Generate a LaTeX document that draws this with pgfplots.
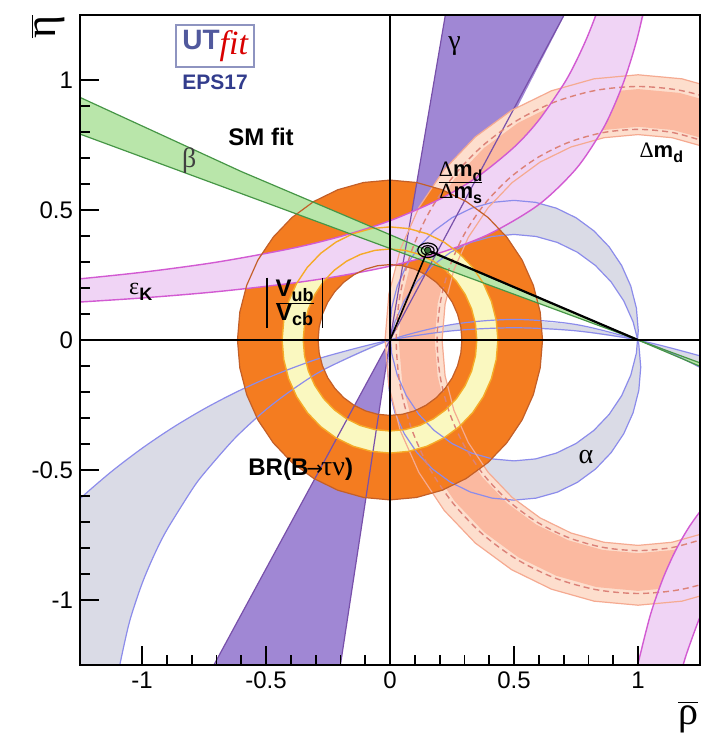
\documentclass[border=0pt]{standalone}
\usepackage{pgfplots}
\pgfplotsset{compat=1.18}
\usepackage{pgfplotstable}
\usepackage{fontspec}
\setmainfont{Liberation Sans}
\newfontfamily\gr{Liberation Serif}
\newfontfamily\djv{DejaVu Sans}
\usetikzlibrary{calc}
\definecolor{orng}{RGB}{244,124,32}
\definecolor{orngb}{RGB}{195,95,40}
\definecolor{ylw}{RGB}{250,248,192}
\definecolor{ylwb}{RGB}{245,170,40}
\definecolor{grayf}{RGB}{218,219,230}
\definecolor{bluel}{RGB}{140,140,235}
\definecolor{pinkf}{RGB}{240,212,245}
\definecolor{pinkl}{RGB}{210,90,210}
\definecolor{peach}{RGB}{253,222,205}
\definecolor{salmon}{RGB}{251,185,160}
\definecolor{peachl}{RGB}{245,170,145}
\definecolor{salmond}{RGB}{220,130,120}
\definecolor{purp}{RGB}{160,135,212}
\definecolor{purpl}{RGB}{120,80,170}
\definecolor{grn}{RGB}{185,230,170}
\definecolor{grnl}{RGB}{70,150,70}
\definecolor{logoblue}{RGB}{50,60,140}

% |Vub/Vcb| / BR ring: outer r=0.615, inner r=0.29
\pgfplotstableread{
x y
0.615 0
0.6057 0.1068
0.5779 0.2103
0.5326 0.3075
0.4711 0.3953
0.3953 0.4711
0.3075 0.5326
0.2103 0.5779
0.1068 0.6057
0 0.615
-0.1068 0.6057
-0.2103 0.5779
-0.3075 0.5326
-0.3953 0.4711
-0.4711 0.3953
-0.5326 0.3075
-0.5779 0.2103
-0.6057 0.1068
-0.615 0
-0.6057 -0.1068
-0.5779 -0.2103
-0.5326 -0.3075
-0.4711 -0.3953
-0.3953 -0.4711
-0.3075 -0.5326
-0.2103 -0.5779
-0.1068 -0.6057
0 -0.615
0.1068 -0.6057
0.2103 -0.5779
0.3075 -0.5326
0.3953 -0.4711
0.4711 -0.3953
0.5326 -0.3075
0.5779 -0.2103
0.6057 -0.1068
0.615 0
nan nan
0.29 0
0.2856 0.0503
0.2725 0.0992
0.2511 0.145
0.2221 0.1864
0.1864 0.2221
0.145 0.2511
0.0992 0.2725
0.0503 0.2856
0 0.29
-0.0503 0.2856
-0.0992 0.2725
-0.145 0.2511
-0.1864 0.2221
-0.2221 0.1864
-0.2511 0.145
-0.2725 0.0992
-0.2856 0.0503
-0.29 0
-0.2856 -0.0503
-0.2725 -0.0992
-0.2511 -0.145
-0.2221 -0.1864
-0.1864 -0.2221
-0.145 -0.2511
-0.0992 -0.2725
-0.0503 -0.2856
0 -0.29
0.0503 -0.2856
0.0992 -0.2725
0.145 -0.2511
0.1864 -0.2221
0.2221 -0.1864
0.2511 -0.145
0.2725 -0.0992
0.2856 -0.0503
0.29 0
}\tOrange

% yellow ring: r=0.435 and r=0.35
\pgfplotstableread{
x y
0.435 0
0.4284 0.0755
0.4088 0.1488
0.3767 0.2175
0.3332 0.2796
0.2796 0.3332
0.2175 0.3767
0.1488 0.4088
0.0755 0.4284
0 0.435
-0.0755 0.4284
-0.1488 0.4088
-0.2175 0.3767
-0.2796 0.3332
-0.3332 0.2796
-0.3767 0.2175
-0.4088 0.1488
-0.4284 0.0755
-0.435 0
-0.4284 -0.0755
-0.4088 -0.1488
-0.3767 -0.2175
-0.3332 -0.2796
-0.2796 -0.3332
-0.2175 -0.3767
-0.1488 -0.4088
-0.0755 -0.4284
0 -0.435
0.0755 -0.4284
0.1488 -0.4088
0.2175 -0.3767
0.2796 -0.3332
0.3332 -0.2796
0.3767 -0.2175
0.4088 -0.1488
0.4284 -0.0755
0.435 0
nan nan
0.35 0
0.3447 0.0608
0.3289 0.1197
0.3031 0.175
0.2681 0.225
0.225 0.2681
0.175 0.3031
0.1197 0.3289
0.0608 0.3447
0 0.35
-0.0608 0.3447
-0.1197 0.3289
-0.175 0.3031
-0.225 0.2681
-0.2681 0.225
-0.3031 0.175
-0.3289 0.1197
-0.3447 0.0608
-0.35 0
-0.3447 -0.0608
-0.3289 -0.1197
-0.3031 -0.175
-0.2681 -0.225
-0.225 -0.2681
-0.175 -0.3031
-0.1197 -0.3289
-0.0608 -0.3447
0 -0.35
0.0608 -0.3447
0.1197 -0.3289
0.175 -0.3031
0.225 -0.2681
0.2681 -0.225
0.3031 -0.175
0.3289 -0.1197
0.3447 -0.0608
0.35 0
}\tYellow

% Delta m_d light ring around (1,0): r=1.02 and r=0.79
\pgfplotstableread{
x y
2.02 0
2.0045 0.1771
1.9585 0.3488
1.8833 0.51
1.7813 0.6557
1.6557 0.7813
1.51 0.8833
1.3488 0.9585
1.1771 1.0045
1 1.02
0.8229 1.0045
0.6512 0.9585
0.49 0.8833
0.3443 0.7813
0.2187 0.6557
0.1167 0.51
0.0415 0.3488
-0.0045 0.1771
-0.02 0
-0.0045 -0.1771
0.0415 -0.3488
0.1167 -0.51
0.2187 -0.6557
0.3443 -0.7813
0.49 -0.8833
0.6512 -0.9585
0.8229 -1.0045
1 -1.02
1.1771 -1.0045
1.3488 -0.9585
1.51 -0.8833
1.6557 -0.7813
1.7813 -0.6557
1.8833 -0.51
1.9585 -0.3488
2.0045 -0.1771
2.02 0
nan nan
1.79 0
1.778 0.1371
1.7424 0.2702
1.6841 0.395
1.6051 0.5078
1.5078 0.6051
1.395 0.6841
1.2702 0.7424
1.1371 0.778
1 0.79
0.8629 0.778
0.7298 0.7424
0.605 0.6841
0.4922 0.6051
0.3949 0.5078
0.3159 0.395
0.2576 0.2702
0.222 0.1371
0.21 0
0.222 -0.1371
0.2576 -0.2702
0.3159 -0.395
0.3949 -0.5078
0.4922 -0.6051
0.605 -0.6841
0.7298 -0.7424
0.8629 -0.778
1 -0.79
1.1371 -0.778
1.2702 -0.7424
1.395 -0.6841
1.5078 -0.6051
1.6051 -0.5078
1.6841 -0.395
1.7424 -0.2702
1.778 -0.1371
1.79 0
}\tPeach

% salmon ring around (1,0): r=0.965 and r=0.82
\pgfplotstableread{
x y
1.965 0
1.9503 0.1675
1.9068 0.33
1.8357 0.4825
1.7392 0.6203
1.6203 0.7392
1.4825 0.8357
1.33 0.9068
1.1675 0.9503
1 0.965
0.8325 0.9503
0.67 0.9068
0.5175 0.8357
0.3797 0.7392
0.2608 0.6203
0.1643 0.4825
0.0932 0.33
0.0497 0.1675
0.035 0
0.0497 -0.1675
0.0932 -0.33
0.1643 -0.4825
0.2608 -0.6203
0.3797 -0.7392
0.5175 -0.8357
0.67 -0.9068
0.8325 -0.9503
1 -0.965
1.1675 -0.9503
1.33 -0.9068
1.4825 -0.8357
1.6203 -0.7392
1.7392 -0.6203
1.8357 -0.4825
1.9068 -0.33
1.9503 -0.1675
1.965 0
nan nan
1.82 0
1.8075 0.1424
1.7706 0.2804
1.7101 0.41
1.6281 0.5271
1.5271 0.6281
1.41 0.7101
1.2804 0.7706
1.1424 0.8075
1 0.82
0.8576 0.8075
0.7196 0.7706
0.59 0.7101
0.4729 0.6281
0.3719 0.5271
0.2899 0.41
0.2294 0.2804
0.1925 0.1424
0.18 0
0.1925 -0.1424
0.2294 -0.2804
0.2899 -0.41
0.3719 -0.5271
0.4729 -0.6281
0.59 -0.7101
0.7196 -0.7706
0.8576 -0.8075
1 -0.82
1.1424 -0.8075
1.2804 -0.7706
1.41 -0.7101
1.5271 -0.6281
1.6281 -0.5271
1.7101 -0.41
1.7706 -0.2804
1.8075 -0.1424
1.82 0
}\tSalmon

% alpha: two circles through (0,0) and (1,0)
\pgfplotstableread{
x y
1.001 0.036
0.9934 0.123
0.9708 0.2073
0.9339 0.2865
0.8838 0.358
0.822 0.4198
0.7505 0.4699
0.6713 0.5068
0.587 0.5294
0.5 0.537
0.413 0.5294
0.3287 0.5068
0.2495 0.4699
0.178 0.4198
0.1162 0.358
0.0661 0.2865
0.0292 0.2073
0.0066 0.123
-0.001 0.036
0.0066 -0.051
0.0292 -0.1353
0.0661 -0.2145
0.1162 -0.286
0.178 -0.3478
0.2495 -0.3979
0.3287 -0.4348
0.413 -0.4574
0.5 -0.465
0.587 -0.4574
0.6713 -0.4348
0.7505 -0.3979
0.822 -0.3478
0.8838 -0.286
0.9339 -0.2145
0.9708 -0.1353
0.9934 -0.051
1.001 0.036
nan nan
1.011 -0.105
1.0032 -0.0163
0.9802 0.0698
0.9425 0.1505
0.8914 0.2235
0.8285 0.2864
0.7555 0.3375
0.6748 0.3752
0.5887 0.3982
0.5 0.406
0.4113 0.3982
0.3252 0.3752
0.2445 0.3375
0.1715 0.2864
0.1086 0.2235
0.0575 0.1505
0.0198 0.0698
-0.0032 -0.0163
-0.011 -0.105
-0.0032 -0.1937
0.0198 -0.2798
0.0575 -0.3605
0.1086 -0.4335
0.1715 -0.4964
0.2445 -0.5475
0.3252 -0.5852
0.4113 -0.6082
0.5 -0.616
0.5887 -0.6082
0.6748 -0.5852
0.7555 -0.5475
0.8285 -0.4964
0.8914 -0.4335
0.9425 -0.3605
0.9802 -0.2798
1.0032 -0.1937
1.011 -0.105
}\tAlphaA

% alpha: two large circles (upper arcs) with the region below them
\pgfplotstableread{
x y
-1.35 -0.7025
-1.25 -0.6104
-1.125 -0.5076
-1.0 -0.4167
-0.875 -0.3363
-0.75 -0.2653
-0.625 -0.2028
-0.5 -0.1483
-0.375 -0.1011
-0.25 -0.061
0 -0.0004
0.25 0.0352
0.5 0.047
0.75 0.0352
1.0 -0.0004
1.25 -0.061
1.35 -0.0926
1.35 -1.7
-1.35 -1.7
-1.35 -0.7025
nan nan
-1.115 -1.536
-1.1 -1.3165
-1.0895 -1.25
-1.05 -1.0825
-1.0 -0.9375
-0.95 -0.8249
-0.9 -0.7309
-0.8 -0.5778
-0.75 -0.5134
-0.625 -0.3773
-0.5 -0.2678
-0.375 -0.1786
-0.25 -0.1057
0 -0.0003
0.25 0.0595
0.5 0.079
0.75 0.0595
1.0 -0.0003
1.125 -0.0468
1.25 -0.1057
1.35 -0.1628
1.35 -1.7
-1.115 -1.7
-1.115 -1.536
}\tAlphaB

\begin{document}
\begin{tikzpicture}
\begin{axis}[name=ax, scale only axis, width=310pt, height=325pt,
  xmin=-1.25, xmax=1.25, ymin=-1.25, ymax=1.25,
  xtick={-1,-0.5,0,0.5,1}, ytick={-1,-0.5,0,0.5,1},
  minor tick num=4, tick pos=left, tick align=inside,
  major tick length=9.5pt, minor tick length=4.75pt,
  axis line style={line width=0.9pt},
  every tick/.style={black, line width=0.9pt},
  ticklabel style={font=\fontsize{12}{14}\selectfont},
  /pgf/number format/assume math mode=true,
  unbounded coords=jump, axis on top, clip mode=individual]

% alpha regions
\addplot[fill=grayf, draw=none, even odd rule] table {\tAlphaA};
\addplot[fill=grayf, draw=none, even odd rule] table {\tAlphaB};
% gamma (lower part)
\addplot[fill=purp, draw=none] coordinates {(0,0) (-0.767,-1.35) (-0.216,-1.35) (0,0)};
% Delta m_d
\addplot[fill=peach, draw=none, even odd rule] table {\tPeach};
\addplot[fill=salmon, draw=none, even odd rule] table {\tSalmon};
% rings
\addplot[fill=orng, draw=none, even odd rule] table {\tOrange};
\addplot[fill=ylw, draw=none, even odd rule] table {\tYellow};
% gamma (upper part, outside the Delta m_d ring)
\addplot[fill=purp, draw=none] coordinates {(0.0778,0.436) (0.241,1.35) (0.758,1.35) (0.513,0.894) (0.49,0.8833) (0.3443,0.7813) (0.2187,0.6557) (0.1167,0.51) (0.0778,0.436)};
% epsilon_K
\addplot[fill=pinkf, draw=none, smooth] coordinates {(-1.3,0.2305) (-1.0,0.2604) (-0.7,0.2992) (-0.4,0.3516) (-0.2,0.3981) (0,0.4588) (0.2,0.5414) (0.35,0.6258) (0.5,0.7414) (0.6,0.8455) (0.7,0.9837) (0.75,1.0712) (0.8,1.1758) (0.85,1.303) (0.9,1.4612) (1.05,1.3889) (1.0,1.1719) (0.95,1.0135) (0.9,0.8929) (0.85,0.7979) (0.75,0.6579) (0.6,0.5208) (0.4,0.4076) (0.2,0.3348) (0,0.2841) (-0.2,0.2467) (-0.4,0.218) (-0.7,0.1856) (-1.0,0.1616) (-1.3,0.1431)};
\addplot[fill=pinkf, draw=none, smooth] coordinates {(0.99,-1.29) (1.0,-1.245) (1.05,-1.057) (1.1,-0.919) (1.15,-0.8125) (1.2,-0.728) (1.25,-0.66) (1.3,-0.603) (1.3,-0.961) (1.25,-1.065) (1.2,-1.195) (1.18,-1.256) (1.16,-1.324)};
% beta
\addplot[fill=grn, draw=none] coordinates {(1.3,-0.1215) (-0.6,0.648) (-1.3,0.955) (-1.3,0.8096) (1.3,-0.1056)};

% outlines
\addplot[bluel, line width=0.6pt] table {\tAlphaA};
\addplot[bluel, line width=0.6pt, smooth] coordinates {(-1.35,-0.7025) (-1.25,-0.6104) (-1.125,-0.5076) (-1.0,-0.4167) (-0.875,-0.3363) (-0.75,-0.2653) (-0.625,-0.2028) (-0.5,-0.1483) (-0.375,-0.1011) (-0.25,-0.061) (0,-0.0004) (0.25,0.0352) (0.5,0.047) (0.75,0.0352) (1.0,-0.0004) (1.25,-0.061) (1.35,-0.0926)};
\addplot[bluel, line width=0.6pt, smooth] coordinates {(-1.1,-1.3165) (-1.0895,-1.25) (-1.05,-1.0825) (-1.0,-0.9375) (-0.95,-0.8249) (-0.9,-0.7309) (-0.8,-0.5778) (-0.75,-0.5134) (-0.625,-0.3773) (-0.5,-0.2678) (-0.375,-0.1786) (-0.25,-0.1057) (0,-0.0003) (0.25,0.0595) (0.5,0.079) (0.75,0.0595) (1.0,-0.0003) (1.125,-0.0468) (1.25,-0.1057) (1.35,-0.1628)};
\addplot[purpl, line width=0.6pt] coordinates {(0.241,1.35) (0,0) (-0.767,-1.35)};
\addplot[purpl, line width=0.6pt] coordinates {(0.758,1.35) (0,0) (-0.216,-1.35)};
\addplot[peachl, line width=0.6pt] table {\tPeach};
\addplot[salmond, line width=0.7pt, dashed, dash pattern=on 3pt off 2pt, smooth] coordinates {(1.277,0.7612) (1.1406,0.7977) (1,0.81) (0.8594,0.7977) (0.723,0.7612) (0.595,0.7015) (0.4793,0.6205) (0.3795,0.5207) (0.2985,0.405) (0.2388,0.277) (0.2023,0.1406) (0.19,0) (0.2023,-0.1406) (0.2388,-0.277) (0.2985,-0.405) (0.3795,-0.5207) (0.4793,-0.6205) (0.595,-0.7015) (0.723,-0.7612) (0.8594,-0.7977) (1,-0.81) (1.1406,-0.7977) (1.277,-0.7612)};
\addplot[salmond, line width=0.7pt, dashed, dash pattern=on 3pt off 2pt, smooth] coordinates {(1.4875,0.8444) (1.3335,0.9162) (1.1693,0.9602) (1,0.975) (0.8307,0.9602) (0.6665,0.9162) (0.5125,0.8444) (0.3733,0.7469) (0.2531,0.6267) (0.1556,0.4875) (0.0838,0.3335) (0.0398,0.1693) (0.025,0) (0.0398,-0.1693) (0.0838,-0.3335) (0.1556,-0.4875) (0.2531,-0.6267) (0.3733,-0.7469) (0.5125,-0.8444) (0.6665,-0.9162) (0.8307,-0.9602) (1,-0.975) (1.1693,-0.9602) (1.3335,-0.9162) (1.4875,-0.8444)};
\addplot[pinkl, line width=0.7pt, smooth] coordinates {(-1.3,0.2305) (-1.0,0.2604) (-0.7,0.2992) (-0.4,0.3516) (-0.2,0.3981) (0,0.4588) (0.2,0.5414) (0.35,0.6258) (0.5,0.7414) (0.6,0.8455) (0.7,0.9837) (0.75,1.0712) (0.8,1.1758) (0.85,1.303) (0.9,1.4612)};
\addplot[pinkl, line width=0.7pt, smooth] coordinates {(1.05,1.3889) (1.0,1.1719) (0.95,1.0135) (0.9,0.8929) (0.85,0.7979) (0.75,0.6579) (0.6,0.5208) (0.4,0.4076) (0.2,0.3348) (0,0.2841) (-0.2,0.2467) (-0.4,0.218) (-0.7,0.1856) (-1.0,0.1616) (-1.3,0.1431)};
\addplot[pinkl, line width=0.7pt, smooth] coordinates {(0.99,-1.29) (1.0,-1.245) (1.05,-1.057) (1.1,-0.919) (1.15,-0.8125) (1.2,-0.728) (1.25,-0.66) (1.3,-0.603)};
\addplot[pinkl, line width=0.7pt, smooth] coordinates {(1.3,-0.961) (1.25,-1.065) (1.2,-1.195) (1.18,-1.256) (1.16,-1.324)};
\addplot[orngb, line width=0.6pt] table {\tOrange};
\addplot[ylwb, line width=0.7pt] table {\tYellow};
\addplot[grnl, line width=0.6pt] coordinates {(1.3,-0.1215) (-0.6,0.648) (-1.3,0.955)};
\addplot[grnl, line width=0.6pt] coordinates {(1.3,-0.1056) (-1.3,0.8096)};

% SM fit
\addplot[black, line width=0.8pt] coordinates {(0,0) (0.152,0.345)};
\addplot[black, line width=1.1pt] coordinates {(0.152,0.345) (1,0)};
\addplot[black, line width=0.6pt, smooth] coordinates {(0.192,0.345) (0.1866,0.359) (0.172,0.3692) (0.152,0.373) (0.132,0.3692) (0.1174,0.359) (0.112,0.345) (0.1174,0.331) (0.132,0.3208) (0.152,0.317) (0.172,0.3208) (0.1866,0.331) (0.192,0.345)};
\addplot[black, line width=0.6pt, smooth] coordinates {(0.178,0.345) (0.1745,0.354) (0.165,0.3606) (0.152,0.363) (0.139,0.3606) (0.1295,0.354) (0.126,0.345) (0.1295,0.336) (0.139,0.3294) (0.152,0.327) (0.165,0.3294) (0.1745,0.336) (0.178,0.345)};
\addplot[only marks, mark=*, mark size=1.6pt, mark options={fill=grnl!70!black, draw=black}] coordinates {(0.152,0.345)};

% zero lines
\addplot[black, line width=0.9pt] coordinates {(-1.25,0) (1.25,0)};
\addplot[black, line width=0.9pt] coordinates {(0,-1.25) (0,1.25)};

% labels
\node[font=\bfseries\fontsize{12}{14}\selectfont] at (axis cs:-0.52,0.78) {SM fit};
\node[font=\gr\fontsize{14}{16}\selectfont, text=black!75] at (axis cs:-0.81,0.69) {β};
\node[font=\fontsize{12}{14}\selectfont] at (axis cs:-1.005,0.185) {{\gr ε}\raisebox{-0.45ex}{\fontsize{9}{10}\selectfont\bfseries K}};
\node[font=\gr\fontsize{14}{16}\selectfont] at (axis cs:0.26,1.13) {γ};
\node[font=\gr\fontsize{14}{16}\selectfont] at (axis cs:0.79,-0.45) {α};
\node[font=\fontsize{11}{13}\selectfont] at (axis cs:0.285,0.605) {$\frac{\hbox{\gr Δ\bfseries\fontspec{Liberation Sans}m\raisebox{-0.4ex}{\fontsize{8}{9}\selectfont d}}}{\hbox{\gr Δ\bfseries\fontspec{Liberation Sans}m\raisebox{-0.4ex}{\fontsize{8}{9}\selectfont s}}}$};
\node[font=\fontsize{11}{13}\selectfont] at (axis cs:1.094,0.72) {{\gr Δ}\textbf{m}\raisebox{-0.4ex}{\fontsize{8}{9}\selectfont\bfseries d}};
\node[font=\fontsize{12}{14}\selectfont, inner xsep=3pt, inner ysep=1pt] (vub) at (axis cs:-0.385,0.142) {$\frac{\hbox{\bfseries V\raisebox{-0.4ex}{\fontsize{9}{10}\selectfont ub}}}{\hbox{\bfseries V\raisebox{-0.4ex}{\fontsize{9}{10}\selectfont cb}}}$};
\draw[line width=0.8pt] (vub.north west) -- (vub.south west);
\draw[line width=0.8pt] (vub.north east) -- (vub.south east);
\node[font=\fontsize{12}{14}\selectfont] at (axis cs:-0.36,-0.498) {\textbf{BR(B}\kern-1pt{\djv\fontsize{10}{12}\selectfont →}\kern-1pt{\gr\fontsize{14}{16}\selectfont τν}\textbf{)}};
\node[draw=logoblue!55, line width=0.8pt, fill=white, minimum width=39pt, minimum height=21pt, inner sep=1pt] at (axis cs:-0.705,1.13) {\textcolor{logoblue!85}{\bfseries\fontsize{14}{16}\selectfont UT}\raisebox{-0.5ex}{\textcolor{red!85!black}{\gr\itshape\fontsize{17}{18}\selectfont fit}}};
\node[font=\bfseries\fontsize{10.5}{12}\selectfont, text=logoblue] at (axis cs:-0.705,0.99) {EPS17};
\end{axis}
\node[font=\gr\fontsize{22}{24}\selectfont, rotate=90] at ($(ax.north west)+(-16pt,-6pt)$) {$\overline{\hbox{η}}$};
\node[font=\gr\fontsize{20}{22}\selectfont] at ($(ax.south east)+(-6pt,-26pt)$) {$\overline{\hbox{ρ}}$};
\pgfresetboundingbox
\path[use as bounding box] ($(ax.south west)+(-40pt,-37.5pt)$) rectangle ($(ax.north east)+(2pt,7.5pt)$);
\end{tikzpicture}
\end{document}
